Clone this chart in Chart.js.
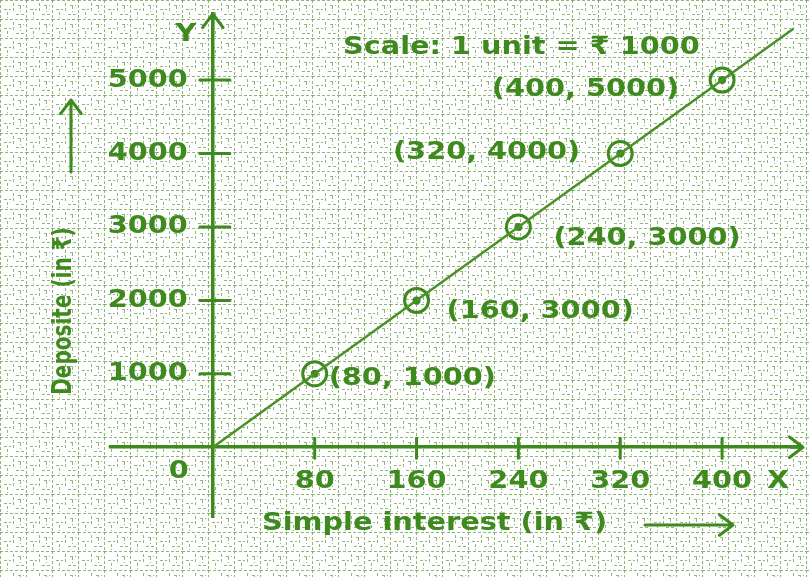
<!DOCTYPE html>
<html>
<head>
<meta charset="utf-8">
<script src="https://cdn.jsdelivr.net/npm/chart.js@4.4.1/dist/chart.umd.min.js"></script>
<style>
  html, body { margin: 0; padding: 0; background: #fff; overflow: hidden; }
  canvas { display: block; }
</style>
</head>
<body>
<canvas id="graph" width="809" height="577"></canvas>
<script>
// values
const interest = [80, 160, 240, 320, 400];
const deposit = [1000, 2000, 3000, 4000, 5000];
const xTickLabels = ['80', '160', '240', '320', '400'];
const yTickLabels = ['1000', '2000', '3000', '4000', '5000'];
const pointLabels = ['(80, 1000)', '(160, 3000)', '(240, 3000)', '(320, 4000)', '(400, 5000)'];
const lineX = [0, 456];
const lineY = [0, 5700];

const GREEN = '#3f8a1f';
const FONT = 'bold 25px "DejaVu Sans"';

// paper texture tile
function makePaper() {
    const t = document.createElement('canvas');
    t.width = 26; t.height = 19;
    const c = t.getContext('2d');
    c.fillStyle = '#fff';
    c.fillRect(0, 0, 26, 19);
    c.strokeStyle = 'rgba(105,160,75,0.75)';
    c.lineWidth = 1;
    c.setLineDash([3, 2]);
    c.beginPath();
    c.moveTo(0, 0.5); c.lineTo(26, 0.5);
    c.moveTo(0.5, 0); c.lineTo(0.5, 19);
    c.moveTo(13.5, 3); c.lineTo(13.5, 12);
    c.moveTo(4, 9.5); c.lineTo(11, 9.5);
    c.moveTo(16, 14.5); c.lineTo(24, 14.5);
    c.moveTo(7.5, 12); c.lineTo(7.5, 18);
    c.moveTo(18, 5.5); c.lineTo(24, 5.5);
    c.moveTo(20.5, 6); c.lineTo(20.5, 12);
    c.stroke();
    return t;
}

function arrow(ctx, x1, y1, x2, y2, head) {
    const a = Math.atan2(y2 - y1, x2 - x1);
    ctx.beginPath();
    ctx.moveTo(x1, y1); ctx.lineTo(x2, y2);
    ctx.moveTo(x2 - head * Math.cos(a - 0.65), y2 - head * Math.sin(a - 0.65));
    ctx.lineTo(x2, y2);
    ctx.lineTo(x2 - head * Math.cos(a + 0.65), y2 - head * Math.sin(a + 0.65));
    ctx.stroke();
}

// stretched text, like the wide lettering of the original
function txt(ctx, s, x, y, align, sx, rot) {
    ctx.save();
    ctx.translate(x, y);
    if (rot) ctx.rotate(rot);
    ctx.scale(sx || 1.15, 1);
    ctx.textAlign = align || 'left';
    ctx.fillText(s, 0, 0);
    ctx.restore();
}

const paperPlugin = {
    id: 'paper',
    beforeDraw(chart) {
        const ctx = chart.ctx;
        ctx.save();
        ctx.fillStyle = ctx.createPattern(makePaper(), 'repeat');
        ctx.fillRect(0, 0, chart.width, chart.height);
        ctx.restore();
    }
};

// label placement next to each point: [dx, dy, align]
const labelPlace = [[14, 5, 'left'], [30, 11, 'left'], [35, 12, 'left'], [-40, -1, 'right'], [-43, 9, 'right']];

const decorPlugin = {
    id: 'decor',
    afterDraw(chart) {
        const ctx = chart.ctx;
        const xs = chart.scales.x, ys = chart.scales.y;
        const ox = xs.getPixelForValue(0), oy = ys.getPixelForValue(0);
        const ca = chart.chartArea;
        ctx.save();
        ctx.strokeStyle = GREEN;
        ctx.fillStyle = GREEN;
        ctx.lineWidth = 3;
        ctx.lineCap = 'round';
        ctx.lineJoin = 'round';
        ctx.font = FONT;
        ctx.textBaseline = 'middle';
        // crossing tick marks and tick labels
        interest.forEach((v, i) => {
            const px = xs.getPixelForValue(v);
            ctx.beginPath(); ctx.moveTo(px, oy - 9); ctx.lineTo(px, oy + 11); ctx.stroke();
            txt(ctx, xTickLabels[i], px, oy + 34, 'center');
        });
        deposit.forEach((v, i) => {
            const py = ys.getPixelForValue(v);
            ctx.beginPath(); ctx.moveTo(ox - 13, py); ctx.lineTo(ox + 17, py); ctx.stroke();
            txt(ctx, yTickLabels[i], ox - 25, py, 'right');
        });
        // axis arrow heads
        arrow(ctx, ox, ca.top + 10, ox, ca.top, 17);
        arrow(ctx, ca.right - 10, oy, ca.right + 2, oy, 17);
        // axis title arrows
        arrow(ctx, 71, 172, 71, 100, 17);
        arrow(ctx, 645, 525, 733, 525, 17);

        txt(ctx, 'Y', ox - 27, 34, 'center');
        txt(ctx, 'X', 778, 481, 'center');
        txt(ctx, '0', ox - 34, 471, 'center');
        txt(ctx, 'Scale: 1 unit = \u20B9 1000', 343, 47, 'left');
        txt(ctx, 'Simple interest (in \u20B9)', 262, 523, 'left');

        // point labels
        const meta = chart.getDatasetMeta(1);
        meta.data.forEach((pt, i) => {
            const p = labelPlace[i];
            txt(ctx, pointLabels[i], pt.x + p[0], pt.y + p[1], p[2]);
        });

        ctx.font = 'bold 26px "DejaVu Sans"';
        txt(ctx, 'Deposite (in \u20B9)', 64, 311, 'center', 0.77, -Math.PI / 2);
        ctx.restore();
    }
};

new Chart(document.getElementById('graph').getContext('2d'), {
    type: 'scatter',
    data: {
        datasets: [{
            data: lineX.map((x, i) => ({ x: x, y: lineY[i] })),
            showLine: true,
            borderColor: '#4a9128',
            borderWidth: 2.5,
            pointRadius: 0
        }, {
            data: interest.map((x, i) => ({ x: x, y: deposit[i] })),
            pointRadius: 12,
            pointBorderWidth: 3,
            borderColor: GREEN,
            backgroundColor: 'rgba(0,0,0,0)'
        }, {
            data: interest.map((x, i) => ({ x: x, y: deposit[i] })),
            pointRadius: 4,
            borderWidth: 0,
            backgroundColor: GREEN
        }]
    },
    options: {
        responsive: false,
        animation: false,
        layout: { autoPadding: false, padding: { left: 111, right: 8, top: 14, bottom: 60 } },
        plugins: { legend: { display: false }, tooltip: { enabled: false } },
        scales: {
            x: {
                type: 'linear',
                position: { y: 0 },
                min: -80,
                max: 462,
                grid: { display: false },
                border: { color: GREEN, width: 3.5 },
                ticks: { display: false, stepSize: 80 }
            },
            y: {
                type: 'linear',
                position: { x: 0 },
                min: -950,
                max: 5900,
                grid: { display: false },
                border: { color: GREEN, width: 3.5 },
                ticks: { display: false, stepSize: 1000 }
            }
        }
    },
    plugins: [paperPlugin, decorPlugin]
});
</script>
</body>
</html>
